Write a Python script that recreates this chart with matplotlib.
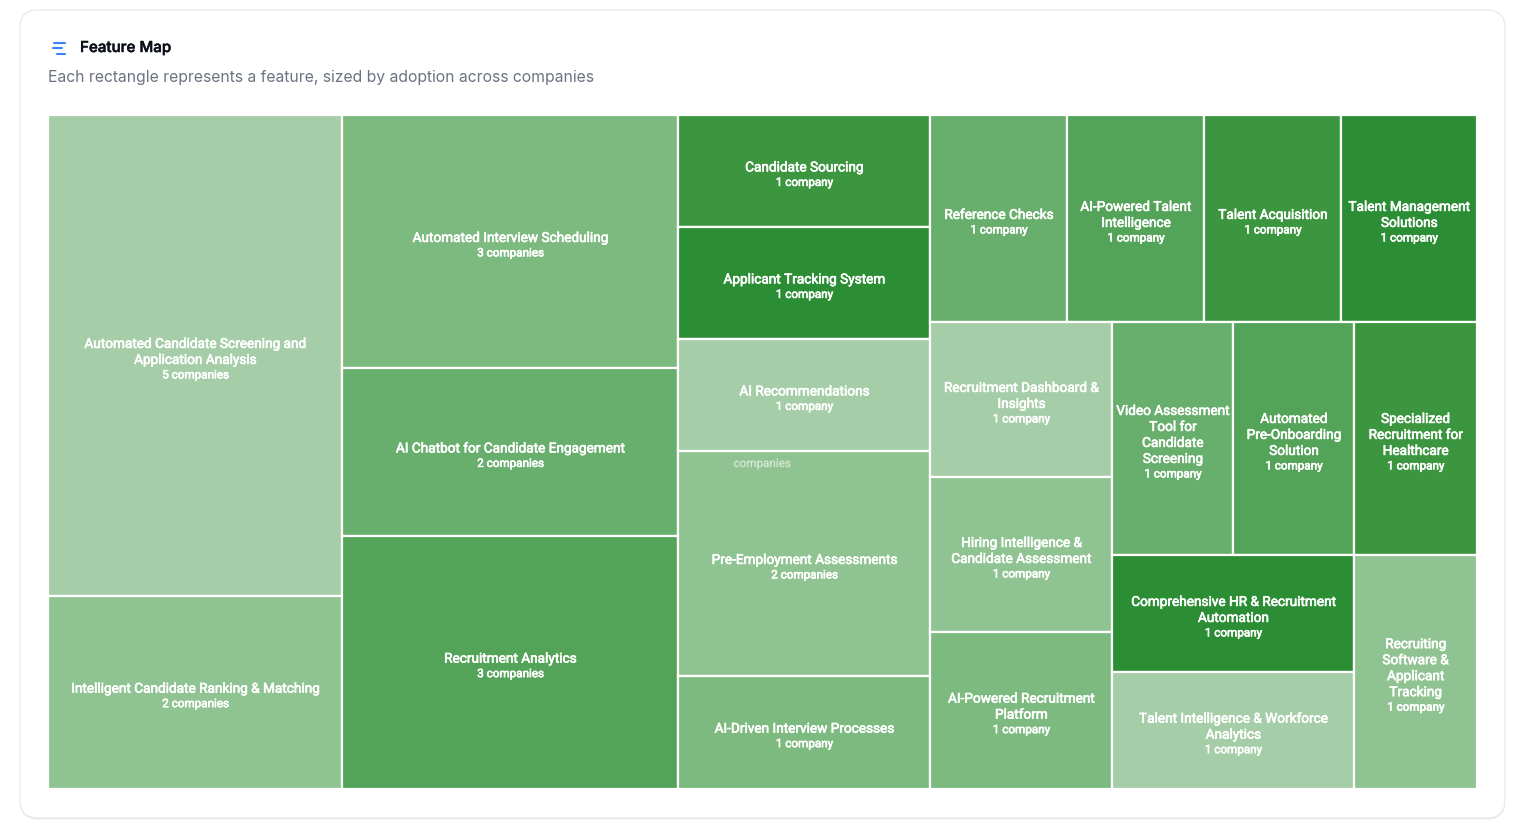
"""Feature Map treemap card (squarified layout from company counts)."""
import matplotlib

matplotlib.use("Agg")
import matplotlib.pyplot as plt
import matplotlib.patheffects as pe
from matplotlib.patches import FancyBboxPatch, Rectangle

# features in drawing order, with wrapped label lines
labels = [
    ["Automated Candidate Screening and", "Application Analysis"],
    ["Intelligent Candidate Ranking & Matching"],
    ["Automated Interview Scheduling"],
    ["AI Chatbot for Candidate Engagement"],
    ["Recruitment Analytics"],
    ["Candidate Sourcing"],
    ["Applicant Tracking System"],
    ["AI Recommendations"],
    ["Pre-Employment Assessments"],
    ["AI-Driven Interview Processes"],
    ["Reference Checks"],
    ["AI-Powered Talent", "Intelligence"],
    ["Talent Acquisition"],
    ["Talent Management", "Solutions"],
    ["Recruitment Dashboard &", "Insights"],
    ["Hiring Intelligence &", "Candidate Assessment"],
    ["AI-Powered Recruitment", "Platform"],
    ["Video Assessment", "Tool for", "Candidate", "Screening"],
    ["Automated", "Pre-Onboarding", "Solution"],
    ["Specialized", "Recruitment for", "Healthcare"],
    ["Comprehensive HR & Recruitment", "Automation"],
    ["Talent Intelligence & Workforce", "Analytics"],
    ["Recruiting", "Software &", "Applicant", "Tracking"],
]
companies = [5, 2, 3, 2, 3, 1, 1, 1, 2, 1, 1, 1, 1, 1, 1, 1, 1, 1, 1, 1, 1, 1, 1]
palette = ["#A5CDA7", "#90C392", "#7DBA80", "#68AE6C", "#53A358", "#3C963F", "#2B8D34"]

TITLE = "Feature Map"
SUBTITLE = "Each rectangle represents a feature, sized by adoption across companies"

W, H = 1531, 825
AREA = (48.4, 115.4, 1428.6, 673.5)  # x, y, w, h in pixels
LINE_H = 16
ASPECT = 4 / 3


def worst(row, size):
    total = sum(row)
    if not total:
        return float("inf")
    return max(size * size * max(row) * ASPECT / total ** 2,
               total ** 2 / (size * size * min(row) * ASPECT))


def place(idx, areas, rect, out, flush=False):
    """Lay one row along the shorter side of rect (whole pixels), return what is left."""
    x, y, w, h = rect
    total = sum(areas[i] for i in idx)
    if w >= h:
        col_w = w if flush else min(round(total / h), w)
        cy = y
        for i in idx:
            bh = min(round(areas[i] / col_w), y + h - cy)
            out[i] = [x, cy, col_w, bh]
            cy += bh
        out[idx[-1]][3] += y + h - cy
        return (x + col_w, y, w - col_w, h)
    row_h = h if flush else min(round(total / w), h)
    cx = x
    for i in idx:
        bw = min(round(areas[i] / row_h), x + w - cx)
        out[i] = [cx, y, bw, row_h]
        cx += bw
    out[idx[-1]][2] += x + w - cx
    return (x, y + row_h, w, h - row_h)


def squarify(values, rect):
    scale = rect[2] * rect[3] / sum(values)
    areas = [v * scale for v in values]
    out = [None] * len(values)
    todo = list(range(len(values)))
    row = []
    best = float("inf")
    while todo:
        size = min(rect[2], rect[3])
        trial = [areas[i] for i in row + [todo[0]]]
        score = worst(trial, size)
        if score <= best:
            row.append(todo.pop(0))
            best = score
        else:
            rect = place(row, areas, rect, out)
            row = []
            best = float("inf")
    if row:
        place(row, areas, rect, out, flush=True)
    return out


fig = plt.figure(figsize=(W / 100, H / 100), dpi=100, facecolor="white")
ax = fig.add_axes([0, 0, 1, 1])
ax.set_xlim(0, W)
ax.set_ylim(H, 0)
ax.axis("off")

# card with faint shadow
for off, col in [(2.0, "#f4f5f6"), (1.0, "#ebecee")]:
    ax.add_patch(FancyBboxPatch((32, 22 + off), 1461, 784, boxstyle="round,pad=12,rounding_size=18",
                                mutation_scale=1, fc=col, ec=col, lw=0, zorder=0))
ax.add_patch(FancyBboxPatch((32, 22), 1461, 784, boxstyle="round,pad=12,rounding_size=18",
                            mutation_scale=1, fc="white", ec="#e5e7eb", lw=0.8, zorder=1))

# header icon
for x0, x1, y in [(54, 65, 42.5), (53, 62, 48), (57, 65, 53.5)]:
    ax.plot([x0, x1], [y, y], color="#3b82f6", lw=1.5, solid_capstyle="round", zorder=2)
ax.text(80, 48, TITLE, family="Inter", fontsize=10.9, fontweight="medium", color="#0b0f19",
        va="center", ha="left", zorder=2,
        path_effects=[pe.withStroke(linewidth=0.35, foreground="#0b0f19")])
ax.text(48, 77.5, SUBTITLE, family="Inter", fontsize=11.32, color="#6b7280",
        va="center", ha="left", zorder=2)

outline = [pe.withStroke(linewidth=0.45, foreground="white")]
boxes = squarify(companies, AREA)
for i, (x, y, w, h) in enumerate(boxes):
    ax.add_patch(Rectangle((x, y), w, h, fc=palette[i % len(palette)], ec="white", lw=1.6, zorder=3))
    lines = labels[i]
    n = companies[i]
    cx, cy = x + w / 2, y + h / 2 + 4
    top = cy - len(lines) * LINE_H / 2
    for k, line in enumerate(lines):
        ax.text(cx, top + k * LINE_H, line, family="Roboto", fontsize=9.8, color="white",
                ha="center", va="center", path_effects=outline, zorder=4)
    sub = f"{n} company" if n == 1 else f"{n} companies"
    ax.text(cx, top + len(lines) * LINE_H - 1, sub, family="Roboto", fontsize=8.4, color="white",
            ha="center", va="center", path_effects=outline, zorder=4)

# stray faded label left over in the pre-employment box
ax.text(762, 463.5, "companies", family="Roboto", fontsize=8.4, color="white", alpha=0.3,
        ha="center", va="center", path_effects=outline, zorder=4)

fig.savefig("out.png", dpi=100)
plt.close(fig)
